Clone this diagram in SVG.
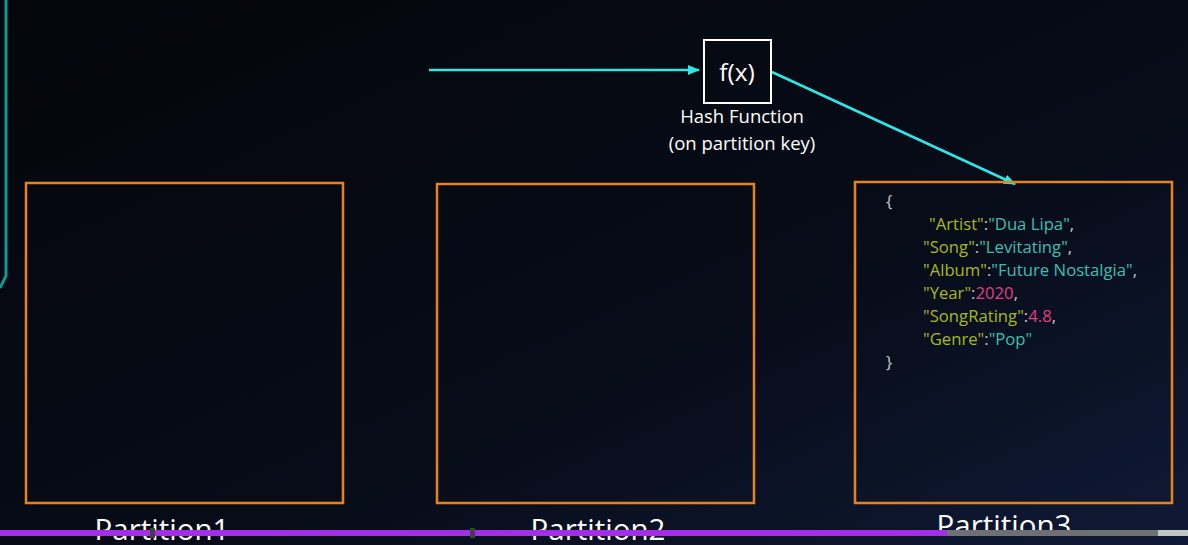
<svg xmlns="http://www.w3.org/2000/svg" width="1188" height="545" viewBox="0 0 1188 545">
<defs>
<linearGradient id="bg" x1="0" y1="0" x2="1" y2="1">
<stop offset="0" stop-color="#04060b"/>
<stop offset="0.6" stop-color="#070c18"/>
<stop offset="1" stop-color="#0f1a36"/>
</linearGradient>
<marker id="ah" viewBox="0 0 10 10" refX="9" refY="5" markerWidth="5" markerHeight="5" orient="auto" markerUnits="strokeWidth">
<path d="M0,1 L10,5 L0,9 z" fill="#2ee6e6"/>
</marker>
<style>
.part{fill:none;stroke:#e8821e;stroke-width:2.5}
.lbl{font-family:"Open Sans","Noto Sans",sans-serif;fill:#ffffff}
.plbl{font-family:"Open Sans","Noto Sans",sans-serif;fill:#ffffff;font-size:29.5px;text-anchor:middle}
.json{font-family:"Open Sans","Noto Sans",sans-serif;font-size:16.7px;fill:#c8c8c8}
.k{fill:#a9b825}
.s{fill:#3cbfb2}
.n{fill:#e23f86}
.conn{stroke:#2ee6e6;stroke-width:2.5;fill:none}
</style>
</defs>
<rect width="1188" height="545" fill="url(#bg)"/>
<polyline points="6,0 6,276 0,288" fill="none" stroke="#0f9a90" stroke-width="3"/>

<g id="connectors">
<line class="conn" x1="429" y1="70" x2="699" y2="70" marker-end="url(#ah)"/>
<line class="conn" x1="772" y1="72" x2="1015" y2="184" marker-end="url(#ah)"/>
</g>

<g id="hash">
<rect x="704" y="40" width="67" height="63" fill="none" stroke="#ffffff" stroke-width="2"/>
<text class="lbl" x="737" y="81" font-size="24.5" text-anchor="middle">f(x)</text>
<text class="lbl" x="742" y="123" font-size="18.5" text-anchor="middle">Hash Function</text>
<text class="lbl" x="742" y="150" font-size="18.5" text-anchor="middle">(on partition key)</text>
</g>

<g id="partition1">
<rect class="part" x="26" y="183" width="317" height="320"/>
<text class="plbl" x="162" y="540">Partition1</text>
</g>
<g id="partition2">
<rect class="part" x="437" y="184" width="317" height="319"/>
<text class="plbl" x="598" y="540">Partition2</text>
</g>
<g id="partition3">
<rect class="part" x="855" y="182" width="317" height="321"/>
<text class="plbl" x="1004" y="536">Partition3</text>
<text class="json" x="886" y="207">{</text>
<text class="json" x="929" y="230"><tspan class="k">"Artist"</tspan>:<tspan class="s">"Dua Lipa"</tspan>,</text>
<text class="json" x="923" y="253"><tspan class="k">"Song"</tspan>:<tspan class="s">"Levitating"</tspan>,</text>
<text class="json" x="923" y="276"><tspan class="k">"Album"</tspan>:<tspan class="s">"Future Nostalgia"</tspan>,</text>
<text class="json" x="923" y="299"><tspan class="k">"Year"</tspan>:<tspan class="n">2020</tspan>,</text>
<text class="json" x="923" y="322"><tspan class="k">"SongRating"</tspan>:<tspan class="n">4.8</tspan>,</text>
<text class="json" x="923" y="345"><tspan class="k">"Genre"</tspan>:<tspan class="s">"Pop"</tspan></text>
<text class="json" x="886" y="368">}</text>
</g>

<rect x="0" y="530" width="947" height="6" fill="#a22ee8"/>
<rect x="947" y="530" width="211" height="6" fill="#6e7073"/>
<rect x="1158" y="530" width="30" height="6" fill="#c4c4c6"/>
<rect x="150" y="528" width="5" height="10" fill="#3d4048"/>
<rect x="470" y="528" width="5" height="10" fill="#3d4048"/>
</svg>
